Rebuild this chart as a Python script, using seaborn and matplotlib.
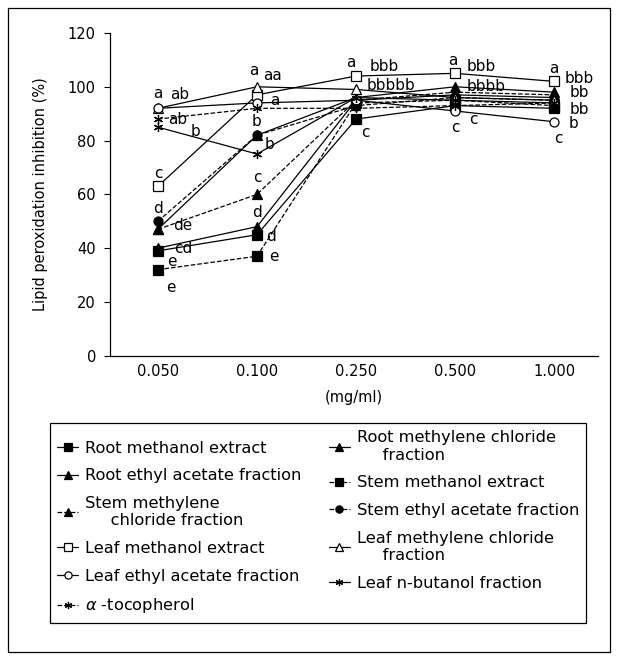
import numpy as np
import pandas as pd
import seaborn as sns
import matplotlib.pyplot as plt
from matplotlib.patches import Rectangle

# Data
conc = ["0.050", "0.100", "0.250", "0.500", "1.000"]

root_meoh = [39, 45, 88, 93, 92]
root_mc = [40, 48, 95, 97, 96]
root_ea = [47, 82, 96, 100, 98]
stem_meoh = [32, 37, 94, 95, 93]
stem_mc = [47, 60, 95, 98, 97]
stem_ea = [50, 82, 93, 96, 95]
leaf_meoh = [63, 97, 104, 105, 102]
leaf_mc = [92, 100, 99, 96, 95]
leaf_ea = [92, 94, 95, 91, 87]
leaf_nb = [85, 75, 96, 95, 94]
tocopherol = [88, 92, 92, 93, 94]

names = ["Root methanol extract", "Root methylene chloride\n     fraction",
         "Root ethyl acetate fraction", "Stem methanol extract",
         "Stem methylene\n     chloride fraction", "Stem ethyl acetate fraction",
         "Leaf methanol extract", "Leaf methylene chloride\n     fraction",
         "Leaf ethyl acetate fraction", "Leaf n-butanol fraction",
         r"$\alpha$ -tocopherol"]
values = [root_meoh, root_mc, root_ea, stem_meoh, stem_mc, stem_ea,
          leaf_meoh, leaf_mc, leaf_ea, leaf_nb, tocopherol]

# significance letters: (series index, concentration index, text)
letters = [(7, 0, "a"), (8, 0, "ab"), (10, 0, "ab"), (9, 0, "b"), (6, 0, "c"),
           (5, 0, "d"), (4, 0, "de"), (1, 0, "cd"), (0, 0, "e"), (3, 0, "e"),
           (7, 1, "a"), (6, 1, "aa"), (8, 1, "a"), (2, 1, "b"), (9, 1, "b"),
           (4, 1, "c"), (1, 1, "d"), (0, 1, "d"), (3, 1, "e"),
           (6, 2, "a"), (6, 2, "bbb"), (7, 2, "bbbbb"), (0, 2, "c"),
           (6, 3, "a"), (6, 3, "bbb"), (2, 3, "bbbb"), (8, 3, "c"), (0, 3, "c"),
           (6, 4, "a"), (6, 4, "bbb"), (2, 4, "bb"), (0, 4, "bb"), (8, 4, "b"), (8, 4, "c")]
letter_offsets = [(0, 11), (16, 10), (14, 0), (27, -3), (0, 9),
                  (0, 9), (18, 3), (18, 0), (10, -8), (9, -13),
                  (-2, 12), (11, 14), (13, 2), (0, 10), (9, 7),
                  (0, 12), (0, 10), (10, -1), (12, 0),
                  (-4, 10), (20, 7), (25, 3), (7, -10),
                  (-2, 9), (19, 5), (22, 0), (0, -12), (13, -10),
                  (0, 9), (18, 2), (18, 0), (18, -1), (14, -1), (3, -12)]

styles = [("s", "-", "k"), ("^", "-", "k"), ("^", "-", "k"), ("s", "--", "k"),
          ("^", "--", "k"), ("o", "--", "k"), ("s", "-", "w"), ("^", "-", "w"),
          ("o", "-", "w"), ((6, 2, 0), "-", "k"), ((6, 2, 0), "--", "k")]

sns.set_style("ticks")
plt.rcParams['font.family'] = ['DejaVu Sans']
plt.rcParams['text.color'] = 'k'
plt.rcParams['axes.labelcolor'] = 'k'
plt.rcParams['xtick.color'] = 'k'
plt.rcParams['ytick.color'] = 'k'

fig = plt.figure(figsize=(6.17, 6.6), dpi=100)
ax = fig.add_axes([0.178, 0.461, 0.791, 0.489])

xpos = np.arange(len(conc))
lines = {}
for i, (nm, vals) in enumerate(zip(names, values)):
    mk, ls, fc = styles[i]
    df = pd.DataFrame({"x": xpos, "y": vals})
    sns.lineplot(data=df, x="x", y="y", ax=ax, color="k", lw=0.9, linestyle=ls,
                 marker=mk, markersize=6.5, markerfacecolor=fc,
                 markeredgecolor="k", markeredgewidth=0.9, label=nm, legend=False)
    lines[i] = ax.get_lines()[-1]

for (si, ci, txt), (dx, dy) in zip(letters, letter_offsets):
    ax.annotate(txt, (xpos[ci], values[si][ci]), xytext=(dx, dy),
                textcoords="offset points", ha="center", va="center", fontsize=11)

ax.set_xlim(-0.485, 4.44)
ax.set_ylim(0, 120)
ax.set_yticks(np.arange(0, 121, 20))
ax.set_xticks(xpos)
ax.set_xticklabels(conc)
ax.tick_params(axis="both", labelsize=10.5, direction="out", length=4, width=0.8)
ax.tick_params(axis="x", pad=6, length=0)
ax.tick_params(axis="y", pad=6)
for s in ["top", "right"]:
    ax.spines[s].set_visible(False)
for s in ["left", "bottom"]:
    ax.spines[s].set_color("k")
    ax.spines[s].set_linewidth(0.9)
ax.set_xlabel("(mg/ml)", fontsize=10.5, labelpad=8)
ax.set_ylabel("Lipid peroxidation inhibition (%)", fontsize=10.5, labelpad=14)

order = [0, 2, 4, 6, 8, 10, 1, 3, 5, 7, 9]
leg = fig.legend([lines[i] for i in order], [names[i] for i in order], ncol=2,
                 loc="upper left", bbox_to_anchor=(0.081, 0.359),
                 frameon=True, framealpha=1,
                 fancybox=False, edgecolor="k", fontsize=11.7, handlelength=1.3,
                 handletextpad=0.4, labelspacing=0.78, borderaxespad=0,
                 borderpad=0.45, columnspacing=1.7, markerscale=0.8)
leg.get_frame().set_linewidth(0.9)

fig.add_artist(Rectangle((0.013, 0.012), 0.975, 0.976, transform=fig.transFigure,
                         fill=False, edgecolor="k", lw=0.9))

fig.savefig("out.png", dpi=100)
